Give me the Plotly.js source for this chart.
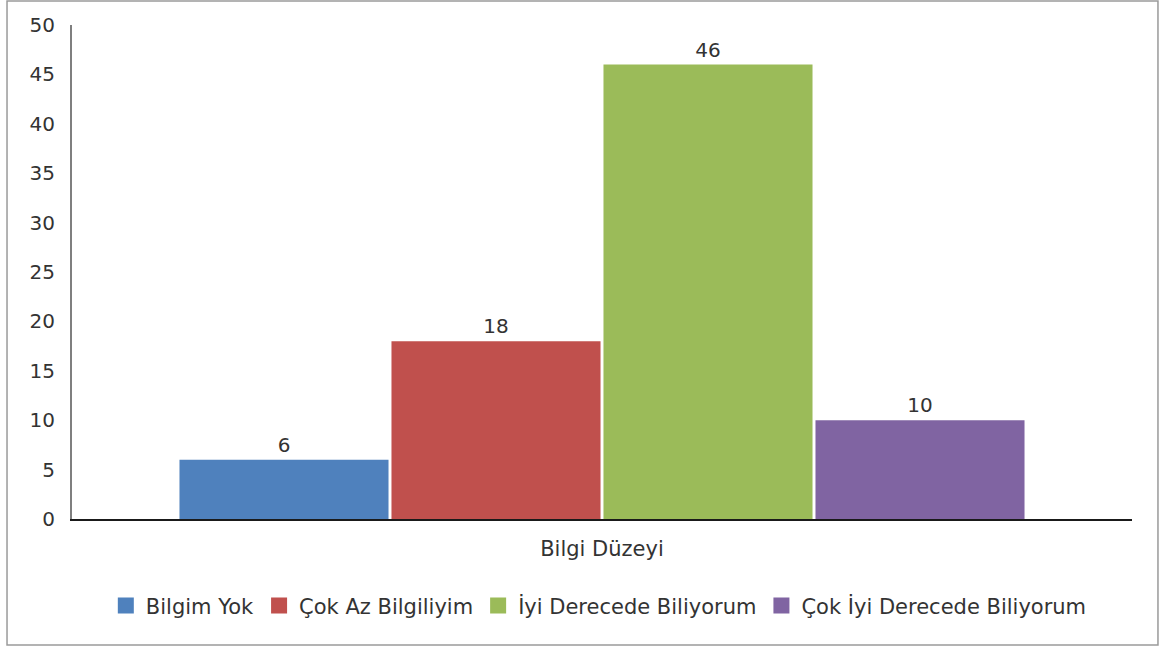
<!DOCTYPE html>
<html>
<head>
<meta charset="utf-8">
<script src="https://cdn.plot.ly/plotly-3.0.1.min.js"></script>
<style>
  html, body { margin: 0; padding: 0; background: #ffffff; }
  #chart { width: 1171px; height: 650px; }
</style>
</head>
<body>
<div id="chart"></div>
<script>
// Single category, four answer groups
const categories = ["Bilgi Düzeyi"];
const seriesNames = ["Bilgim Yok", "Çok Az Bilgiliyim", "İyi Derecede Biliyorum", "Çok İyi Derecede Biliyorum"];
const bilgimYok = [6];
const cokAzBilgiliyim = [18];
const iyiDerecede = [46];
const cokIyiDerecede = [10];
const seriesColors = ["#4F81BD", "#C0504D", "#9BBB59", "#8064A2"];
const yTicks = [0, 5, 10, 15, 20, 25, 30, 35, 40, 45, 50];

const seriesValues = [bilgimYok, cokAzBilgiliyim, iyiDerecede, cokIyiDerecede];
const fontFamily = "DejaVu Sans, Open Sans, sans-serif";
const textFont = { family: fontFamily, size: 21, color: "#333333" };
const tickFont = { family: fontFamily, size: 20, color: "#333333" };

const traces = [];
// bars with value labels
seriesValues.forEach((vals, i) => {
  traces.push({
    type: "bar",
    name: seriesNames[i],
    x: categories,
    y: vals,
    marker: { color: seriesColors[i] },
    text: vals.map(String),
    textposition: "outside",
    textfont: tickFont,
    cliponaxis: false,
    showlegend: false,
    hoverinfo: "name+y"
  });
});
// square legend keys
seriesNames.forEach((name, i) => {
  traces.push({
    type: "scatter",
    mode: "markers",
    name: name,
    x: categories,
    y: [null],
    marker: { symbol: "square", size: 16, color: seriesColors[i] },
    hoverinfo: "skip"
  });
});

const layout = {
  width: 1171,
  height: 650,
  margin: { l: 72, r: 39, t: 25, b: 131 },
  paper_bgcolor: "#ffffff",
  plot_bgcolor: "#ffffff",
  font: textFont,
  barmode: "group",
  bargap: 0.2,
  bargroupgap: 0.014,
  showlegend: true,
  legend: {
    orientation: "h",
    x: 0.497, xanchor: "center",
    y: -0.176, yanchor: "middle",
    font: textFont,
    itemwidth: 30,
    tracegroupgap: 0
  },
  xaxis: {
    type: "category",
    showline: true,
    linecolor: "#1a1a1a",
    linewidth: 2,
    showgrid: false,
    zeroline: false,
    ticks: "",
    layer: "below traces",
    ticklabelstandoff: 10,
    tickfont: textFont,
    fixedrange: true
  },
  yaxis: {
    range: [0, 50],
    tickvals: yTicks,
    ticktext: yTicks.map(String),
    showline: true,
    linecolor: "#7f7f7f",
    linewidth: 2,
    showgrid: false,
    zeroline: false,
    ticks: "",
    ticklabelstandoff: 11,
    tickfont: tickFont,
    fixedrange: true
  },
  shapes: [{
    type: "rect",
    xref: "paper", yref: "paper",
    x0: -0.0613, x1: 1.0245,
    y0: -0.255, y1: 1.0486,
    line: { color: "#9a9a9a", width: 1.5 },
    fillcolor: "rgba(0,0,0,0)",
    layer: "below"
  }]
};

Plotly.newPlot("chart", traces, layout, { displayModeBar: false, staticPlot: true });
</script>
</body>
</html>
